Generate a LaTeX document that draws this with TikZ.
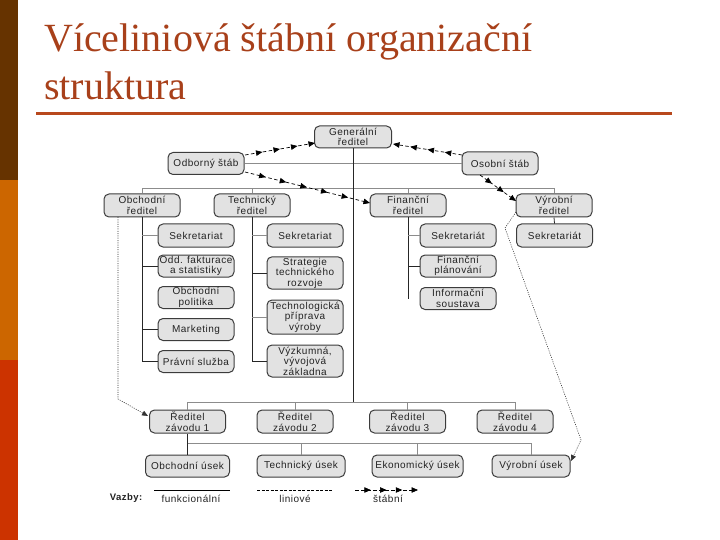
\documentclass[tikz,border=0pt]{standalone}
\usepackage{fontspec}
\setmainfont{Liberation Serif}
\newfontfamily\chartfont[LetterSpace=5]{Liberation Sans}
\usetikzlibrary{arrows.meta,decorations.markings}
\definecolor{sidedark}{RGB}{102,51,0}
\definecolor{sideorange}{RGB}{204,102,0}
\definecolor{sidered}{RGB}{204,51,0}
\definecolor{titlecol}{RGB}{168,64,26}
\definecolor{rulecol}{RGB}{184,72,29}
\definecolor{boxfill}{RGB}{226,226,226}
\definecolor{boxline}{RGB}{60,60,60}
\definecolor{txtcol}{RGB}{35,35,35}
\definecolor{linegray}{RGB}{140,140,140}
\begin{document}
\begin{tikzpicture}[x=1pt,y=-1pt,
  box/.style={draw=boxline, fill=boxfill, rounded corners=5pt, line width=1pt,
    minimum width=76pt, minimum height=23pt, align=center, inner sep=1pt,
    text=txtcol, font=\chartfont\fontsize{10}{10.5}\selectfont},
  gline/.style={draw=linegray, line width=0.7pt},
  bline/.style={draw=black!85, line width=0.8pt},
  funcline/.style={draw=black!80, line width=0.6pt, dash pattern=on 1pt off 1.3pt,
    -{Triangle[length=6pt,width=5pt]}},
  staff/.style={draw=black, line width=0.7pt, dash pattern=on 3.5pt off 2.5pt,
    -{Triangle[length=6.5pt,width=5.5pt]},
    postaction={decorate, decoration={markings,
      mark=between positions #1 and 0.97 step #1 with {\arrow{Triangle[length=6.5pt,width=5.5pt]}}}}},
  legtext/.style={text=txtcol, font=\chartfont\fontsize{10}{11}\selectfont, inner sep=0pt},
  titletext/.style={text=titlecol, font=\fontsize{40}{48}\selectfont, inner sep=0pt, anchor=base west}
]
\useasboundingbox (0,0) rectangle (720,540);
% side bar
\fill[sidedark] (0,0) rectangle (18,180);
\fill[sideorange] (0,180) rectangle (18,360);
\fill[sidered] (0,360) rectangle (18,540);
% title
\node[titletext] (t1) at (44,52) {Víceliniová štábní organizační};
\node[titletext] (t2) at (44,100) {struktura};
\draw[rulecol, line width=3pt] (36,114) -- (672,114);

% top level
\node[box, minimum width=77pt, minimum height=22pt] (gen) at (353,137) {Generální\\ředitel};
\node[box, minimum height=22pt] (odb) at (206,163.5) {Odborný štáb};
\node[box] (oso) at (500,163.5) {Osobní štáb};
% directors
\node[box] (obd) at (142,205.5) {Obchodní\\ředitel};
\node[box] (ted) at (252,205.5) {Technický\\ředitel};
\node[box] (fid) at (408,205.5) {Finanční\\ředitel};
\node[box] (vyd) at (554,205.5) {Výrobní\\ředitel};
% obchodni column
\node[box] (sek1) at (196,235.5) {Sekretariat};
\node[box, minimum height=22pt] (odd) at (196,266) {Odd. fakturace\\a statistiky};
\node[box, minimum height=22pt] (pol) at (196,297.5) {Obchodní\\politika};
\node[box, minimum height=22pt] (mar) at (196,329.5) {Marketing};
\node[box, minimum height=22pt] (pra) at (196,361.5) {Právní služba};
% technicky column
\node[box] (sek2) at (305,235.5) {Sekretariat};
\node[box, minimum height=32pt] (str) at (305,273) {Strategie\\technického\\rozvoje};
\node[box, minimum height=34pt] (tpv) at (305,317) {Technologická\\příprava\\výroby};
\node[box, minimum height=32pt] (vyz) at (305,361) {Výzkumná,\\vývojová\\základna};
% financni column
\node[box] (sek3) at (458,235.5) {Sekretariát};
\node[box, minimum height=22pt] (pla) at (458,266) {Finanční\\plánování};
\node[box, minimum height=22pt] (inf) at (458,298.5) {Informační\\soustava};
% vyrobni column
\node[box] (sek4) at (554.5,235.5) {Sekretariát};
% plants
\node[box] (z1) at (187.5,421.5) {Ředitel\\závodu 1};
\node[box] (z2) at (295,421.5) {Ředitel\\závodu 2};
\node[box] (z3) at (407.5,421.5) {Ředitel\\závodu 3};
\node[box] (z4) at (515,421.5) {Ředitel\\závodu 4};
% sections
\node[box, minimum width=84pt, minimum height=22pt] (ou) at (187.5,466) {Obchodní úsek};
\node[box, minimum width=88pt, minimum height=22pt] (tu) at (301,466) {Technický úsek};
\node[box, minimum width=91pt, minimum height=22pt] (eu) at (417.5,466) {Ekonomický úsek};
\node[box, minimum width=78pt, minimum height=22pt] (vu) at (531,466) {Výrobní úsek};

% bus coordinates
\coordinate (busA) at (0,188);
\coordinate (busB) at (0,402);
\coordinate (busC) at (0,443);

% line connections
\draw[gline] (odb.east) -- (oso.west);
\draw[gline] (obd.north) -- (obd.north |- busA) -- (vyd.north |- busA) -- (vyd.north);
\draw[gline] (ted.north) -- (ted.north |- busA);
\draw[gline] (fid.north) -- (fid.north |- busA);
\draw[bline] (gen.south) -- (gen.south |- busB);
\draw[gline] (z1.north) -- (z1.north |- busB) -- (z4.north |- busB) -- (z4.north);
\draw[gline] (z2.north) -- (z2.north |- busB);
\draw[gline] (z3.north) -- (z3.north |- busB);
\draw[bline] (z1.south) -- (ou.north);
\draw[gline] (z1.south |- busC) -- (vu.north |- busC) -- (vu.north);
\draw[gline] (tu.north) -- (tu.north |- busC);
\draw[gline] (eu.north) -- (eu.north |- busC);
% obchodni column
\draw[bline] (obd.south) -- (obd.south |- pra.west);
\draw[gline] (obd.south |- sek1.west) -- (sek1.west);
\draw[bline] (obd.south |- odd.west) -- (odd.west);
\draw[bline] (obd.south |- mar.west) -- (mar.west);
\draw[bline] (obd.south |- pra.west) -- (pra.west);
% technicky column
\draw[bline] (ted.south) -- (ted.south |- vyz.west);
\draw[gline] (ted.south |- sek2.west) -- (sek2.west);
\draw[bline] (ted.south |- str.west) -- (str.west);
\draw[gline] (ted.south |- tpv.west) -- (tpv.west);
\draw[bline] (ted.south |- vyz.west) -- (vyz.west);
% financni column
\draw[bline] (fid.south) -- (fid.south |- inf.west);
\draw[gline] (fid.south |- sek3.west) -- (sek3.west);
\draw[bline] (fid.south |- pla.west) -- (pla.west);
% vyrobni
\draw[bline] (vyd.south) -- (sek4.north);

% staff connections
\coordinate (s1a) at (245,155);
\coordinate (s1b) at (315,143);
\coordinate (s2a) at (245,172);
\coordinate (s2b) at (370,203);
\coordinate (s3a) at (462,155);
\coordinate (s3b) at (393,144);
\coordinate (s4a) at (480,175);
\coordinate (s4b) at (516,201);
\draw[staff=0.25] (s1a) -- (s1b);
\draw[staff=0.165] (s2a) -- (s2b);
\draw[staff=0.25] (s3a) -- (s3b);
\draw[staff=0.33] (s4a) -- (s4b);

% functional dotted connections
\coordinate (f1a) at (118,217);
\coordinate (f1b) at (118,399);
\coordinate (f1c) at (148,416);
\draw[funcline] (f1a) -- (f1b) -- (f1c);
\coordinate (f2a) at (516,212);
\coordinate (f2b) at (505,228);
\coordinate (f2c) at (581,440);
\coordinate (f2d) at (571,461);
\draw[funcline] (f2a) -- (f2b) -- (f2c) -- (f2d);

% legend
\node[legtext, font=\chartfont\bfseries\fontsize{9.5}{10}\selectfont] (vaz) at (126,498.5) {Vazby:};
\coordinate (l1a) at (154,490);
\coordinate (l1b) at (230,490);
\draw[black, line width=0.8pt] (l1a) -- (l1b);
\node[legtext] (lfun) at (191,499) {funkcionální};
\coordinate (l2a) at (257,490);
\coordinate (l2b) at (333,490);
\draw[black, line width=0.6pt, dash pattern=on 3pt off 1.5pt] (l2a) -- (l2b);
\node[legtext] (llin) at (295,499) {liniové};
\coordinate (l3a) at (355,490);
\coordinate (l3b) at (418,490);
\draw[staff=0.25] (l3a) -- (l3b);
\node[legtext] (lsta) at (388,499) {štábní};
\end{tikzpicture}
\end{document}
